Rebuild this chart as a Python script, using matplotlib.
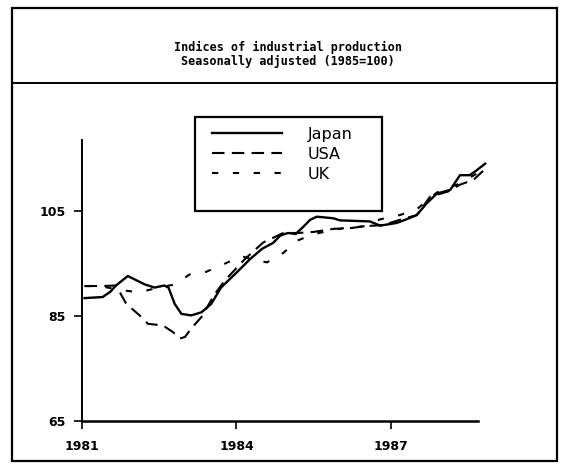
import numpy as np
import matplotlib
matplotlib.use("Agg")
import matplotlib.pyplot as plt
from matplotlib.patches import Rectangle

# values (year, index 1985=100)
japan_t = [1981.05, 1981.4, 1981.55, 1981.66, 1981.89, 1982.22, 1982.41, 1982.6, 1982.68,
           1982.8, 1982.93, 1983.12, 1983.32, 1983.51, 1983.7, 1983.9, 1984.16, 1984.26,
           1984.5, 1984.71, 1984.85, 1985.0, 1985.15, 1985.3, 1985.43, 1985.56, 1985.88,
           1986.01, 1986.59, 1986.79, 1987.11, 1987.3, 1987.5, 1987.69, 1987.89, 1988.15,
           1988.34, 1988.53, 1988.66, 1988.83]
japan = [88.4, 88.6, 89.6, 90.8, 92.6, 91.0, 90.4, 90.8, 90.4,
         87.3, 85.4, 85.1, 85.7, 87.3, 90.4, 92.3, 94.8, 95.8,
         97.8, 98.9, 100.3, 100.8, 100.6, 102.0, 103.3, 103.9, 103.6,
         103.2, 103.0, 102.2, 102.7, 103.4, 104.2, 106.4, 108.3, 109.0,
         111.8, 111.8, 112.7, 114.0]

usa_t = [1981.05, 1981.4, 1981.66, 1981.86, 1982.12, 1982.28, 1982.57, 1982.77, 1982.9,
         1983.0, 1983.12, 1983.32, 1983.58, 1983.77, 1984.16, 1984.52, 1984.91, 1985.2,
         1985.5, 1985.9, 1986.2, 1986.5, 1986.85, 1987.17, 1987.5, 1987.76, 1988.11,
         1988.34, 1988.6, 1988.83]
usa = [90.7, 90.7, 90.8, 87.3, 85.1, 83.5, 83.2, 81.9, 80.7,
       81.0, 82.6, 84.8, 89.2, 91.7, 95.8, 99.0, 100.8, 100.8,
       101.0, 101.6, 101.7, 102.1, 102.3, 103.3, 104.2, 107.7, 108.7,
       110.0, 110.9, 113.0]

uk_t = [1981.05, 1981.4, 1981.7, 1982.1, 1982.45, 1982.8, 1983.09, 1983.41, 1983.74,
        1984.09, 1984.3, 1984.59, 1984.91, 1985.17, 1985.5, 1986.07, 1986.5, 1986.79,
        1987.17, 1987.5, 1987.89, 1988.28, 1988.63, 1988.83]
uk = [90.7, 90.6, 90.0, 89.5, 90.3, 91.0, 92.9, 93.4, 94.8,
      96.4, 95.8, 95.2, 97.0, 99.3, 100.6, 101.7, 102.1, 103.4,
      104.2, 105.3, 108.5, 110.0, 111.9, 113.4]

xticks = [1981, 1984, 1987]
yticks = [65, 85, 105]

W, H = 565, 465

def fx(px):
    return px / W

def fy(py):
    return 1 - py / H

fig = plt.figure(figsize=(W / 100, H / 100), dpi=100)
fig.patch.set_facecolor("white")

# outer frame and title box
fig.add_artist(Rectangle((fx(12), fy(461)), fx(557) - fx(12), fy(8) - fy(461),
                         transform=fig.transFigure, fill=False, ec="black", lw=1.6))
fig.add_artist(plt.Line2D([fx(12), fx(557)], [fy(83), fy(83)],
                          transform=fig.transFigure, color="black", lw=1.4))
fig.text(fx(288), fy(47), "Indices of industrial production", ha="center", va="center",
         family="DejaVu Sans Mono", weight="bold", size=8.5)
fig.text(fx(288), fy(62), "Seasonally adjusted (1985=100)", ha="center", va="center",
         family="DejaVu Sans Mono", weight="bold", size=8.5)

ax = fig.add_axes([fx(82), fy(421), fx(478) - fx(82), fy(140) - fy(421)])
ax.plot(japan_t, japan, color="black", lw=1.7, label="Japan", clip_on=False)
ax.plot(usa_t, usa, color="black", lw=1.5, dashes=(6, 3.5), label="USA", clip_on=False)
ax.plot(uk_t, uk, color="black", lw=1.5, dashes=(3, 7), label="UK", clip_on=False)

ax.set_xlim(1981, 1988.69)
ax.set_ylim(65, 118.5)
ax.set_xticks(xticks)
ax.set_yticks(yticks)
ax.spines["top"].set_visible(False)
ax.spines["right"].set_visible(False)
ax.spines["left"].set_linewidth(1.4)
ax.spines["bottom"].set_linewidth(1.8)
ax.tick_params(axis="both", direction="out", length=6, width=1.2)
ax.tick_params(axis="y", pad=6)
ax.tick_params(axis="x", pad=8)
for lab in ax.get_xticklabels() + ax.get_yticklabels():
    lab.set_fontsize(9)
    lab.set_fontweight("bold")

# legend box
fig.add_artist(Rectangle((fx(195), fy(211)), fx(382) - fx(195), fy(117) - fy(211),
                         transform=fig.transFigure, fill=False, ec="black", lw=1.6))
fig.legend(loc="upper left", bbox_to_anchor=(fx(212), fy(127)), frameon=False,
           fontsize=11.5, handlelength=4.4, handletextpad=1.6, labelspacing=0.3,
           borderpad=0, borderaxespad=0)

fig.savefig("out.png", dpi=100)
